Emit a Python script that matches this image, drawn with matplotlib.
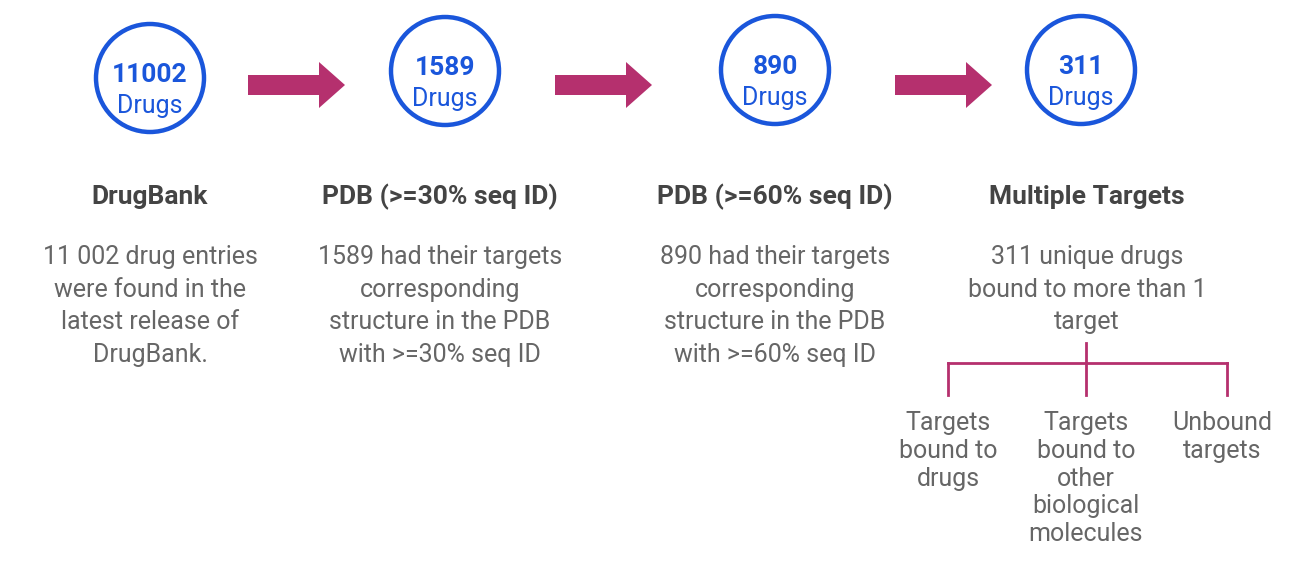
import matplotlib.pyplot as plt
from matplotlib.patches import Circle, FancyArrow

counts = ["11002", "1589", "890", "311"]
titles = ["DrugBank", "PDB (>=30% seq ID)", "PDB (>=60% seq ID)", "Multiple Targets"]
descs = [
    "11 002 drug entries\nwere found in the\nlatest release of\nDrugBank.",
    "1589 had their targets\ncorresponding\nstructure in the PDB\nwith >=30% seq ID",
    "890 had their targets\ncorresponding\nstructure in the PDB\nwith >=60% seq ID",
    "311 unique drugs\nbound to more than 1\ntarget",
]
sub_labels = ["Targets\nbound to\ndrugs", "Targets\nbound to\nother\nbiological\nmolecules", "Unbound\ntargets"]

plt.rcParams['font.family'] = ['Roboto', 'DejaVu Sans']
blue = "#1a56db"
mag = "#b5306e"

fig = plt.figure(figsize=(13.07, 5.81), dpi=100)
ax = fig.add_axes([0, 0, 1, 1])
ax.set_xlim(0, 1307)
ax.set_ylim(581, 0)
ax.axis("off")

cx = [150, 445, 775, 1081]
cy = [78, 71, 70, 70]
tx = [150, 440, 775, 1087]
for i in range(4):
    ax.add_patch(Circle((cx[i], cy[i]), 54, fill=False, ec=blue, lw=3.2))
    ax.text(cx[i], cy[i] + 4, counts[i], ha="center", va="baseline", color=blue,
            fontsize=19, fontweight="bold")
    ax.text(cx[i], cy[i] + 35, "Drugs", ha="center", va="baseline", color=blue, fontsize=18)
    ax.text(tx[i], 197, titles[i], ha="center", va="center", color="#444444",
            fontsize=19, fontweight="bold")
    ax.text(tx[i], 245, descs[i], ha="center", va="top", color="#666666",
            fontsize=18, linespacing=1.45)

for x0, x1 in [(248, 345), (555, 652), (895, 992)]:
    ax.add_patch(FancyArrow(x0, 85, x1 - x0, 0, width=20, head_width=46,
                            head_length=26, length_includes_head=True, color=mag, lw=0))

sx = [948, 1086, 1222]
ax.plot([948, 1227], [363, 363], color=mag, lw=2)
ax.plot([1086, 1086], [343, 395], color=mag, lw=2)
for x in [948, 1227]:
    ax.plot([x, x], [363, 395], color=mag, lw=2)
for x, lab in zip(sx, sub_labels):
    ax.text(x, 411, lab, ha="center", va="top", color="#666666", fontsize=18, linespacing=1.2)

fig.savefig("out.png", dpi=100)
